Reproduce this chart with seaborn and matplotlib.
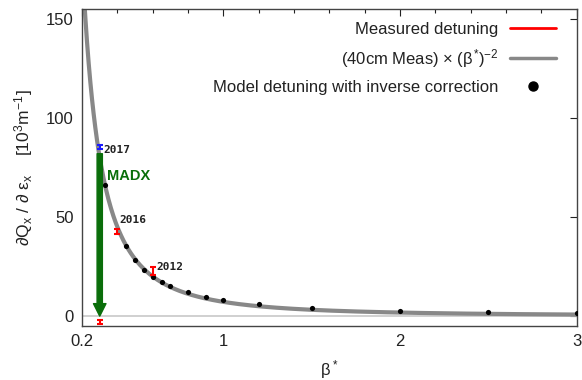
import numpy as np
import pandas as pd
import matplotlib
matplotlib.use("Agg")
import matplotlib.pyplot as plt
from matplotlib.ticker import FixedLocator, MultipleLocator
from matplotlib.lines import Line2D
from matplotlib.patches import FancyArrowPatch
import seaborn as sns

# ---- data ----
meas_40cm = 45.0                     # measured detuning at beta*=0.4 m used for scaling
beta_curve_min, beta_curve_max = 0.2, 3.0

model_beta = [0.33, 0.45, 0.5, 0.55, 0.6, 0.65, 0.7, 0.8, 0.9, 1.0, 1.2, 1.5, 2.0, 2.5, 3.0]
model_detuning = [66.3, 35.2, 28.5, 23.5, 19.8, 17.3, 15.1, 12.1, 9.6, 7.9, 5.9, 4.0, 2.5, 1.9, 1.5]

meas_years = ["2017", "2016", "2012"]
meas_beta = [0.3, 0.4, 0.6]
meas_val = [85.5, 42.7, 22.7]
meas_err = [1.0, 1.4, 2.0]
meas_colors = ["#1a1aff", "#ff0000", "#ff0000"]

corr_beta = [0.3]
corr_val = [-3.0]
corr_err = [1.0]

madx_start, madx_end = 82.0, 0.0
madx_beta = 0.3

xticks = [0.2, 1, 2, 3]
yticks = [0, 50, 100, 150]

# ---- plot ----
sns.set_theme(style="white")
plt.rcParams["font.family"] = ["Liberation Sans", "DejaVu Sans"]
plt.rcParams["mathtext.fontset"] = "custom"
plt.rcParams["mathtext.rm"] = "Liberation Sans"
plt.rcParams["mathtext.it"] = "Liberation Sans"

fig = plt.figure(figsize=(5.82, 3.8), dpi=100)
ax = fig.add_axes([0.141, 0.142, 0.850, 0.834])

beta_grid = np.linspace(beta_curve_min, beta_curve_max, 600)
curve = pd.DataFrame({"beta": beta_grid, "det": meas_40cm * (0.4 / beta_grid) ** 2})

ax.axhline(0, color="#c8c8c8", lw=1.2, zorder=1)
sns.lineplot(data=curve, x="beta", y="det", ax=ax, color="#888888", lw=3.0, zorder=2)

model = pd.DataFrame({"beta": model_beta, "det": model_detuning})
sns.scatterplot(data=model, x="beta", y="det", ax=ax, color="black", s=14,
                edgecolor="black", linewidth=0, zorder=3)

arrow = FancyArrowPatch((madx_beta, madx_start), (madx_beta, madx_end),
                        arrowstyle="simple,head_width=9,head_length=9,tail_width=3.8",
                        mutation_scale=1, color="#0a6e0a", shrinkA=0, shrinkB=0, zorder=4)
ax.add_patch(arrow)

for b, v, e, c in zip(meas_beta, meas_val, meas_err, meas_colors):
    ax.errorbar([b], [v], yerr=[e], color=c, lw=1.5, capsize=2.5, capthick=1.5,
                fmt="none", zorder=5)
ax.errorbar(corr_beta, corr_val, yerr=corr_err, color="#ff0000", lw=1.5, capsize=2.5,
            capthick=1.5, fmt="none", zorder=5)

mono = dict(family="DejaVu Sans Mono", fontweight="bold", fontsize=8, color="#222222")
ax.text(0.318, 84.0, meas_years[0], ha="left", va="center", **mono)
ax.text(0.41, 48.5, meas_years[1], ha="left", va="center", **mono)
ax.text(0.62, 25.0, meas_years[2], ha="left", va="center", **mono)
ax.text(0.342, 71.0, "MADX", color="#0a6e0a", fontsize=10.5, fontweight="bold",
        ha="left", va="center")

ax.set_xlim(0.2, 3.0)
ax.set_ylim(-5, 155)
ax.xaxis.set_major_locator(FixedLocator(xticks))
ax.xaxis.set_minor_locator(MultipleLocator(0.2))
ax.yaxis.set_major_locator(FixedLocator(yticks))
ax.set_xticklabels(["0.2", "1", "2", "3"])
ax.tick_params(axis="both", which="both", direction="in", top=True, right=True,
               labelsize=12, colors="#222222", pad=6)
ax.tick_params(axis="both", which="major", length=5, width=0.8)
ax.tick_params(axis="x", which="minor", length=3, width=0.8)
for sp in ax.spines.values():
    sp.set_color("#444444")
    sp.set_linewidth(1.0)

ax.set_xlabel(r"$\beta^*$", fontsize=12, color="#222222", labelpad=6)
ax.set_ylabel(r"$\partial Q_x\ /\ \partial\ \varepsilon_x\quad\ [10^3 m^{-1}]$",
              fontsize=12.5, color="#222222", labelpad=8)

handles = [Line2D([], [], color="#ff0000", lw=2),
           Line2D([], [], color="#888888", lw=2.5),
           Line2D([], [], color="black", marker="o", ls="none", markersize=6.5)]
labels = ["Measured detuning", r"(40cm Meas) $\times$ ($\beta^{*}$)$^{-2}$",
          "Model detuning with inverse correction"]
leg = ax.legend(handles, labels, loc="upper right", frameon=False, markerfirst=False,
                fontsize=12, handlelength=2.75, handletextpad=0.7, labelspacing=0.6,
                bbox_to_anchor=(0.971, 0.981), borderaxespad=0.0)
for t in leg.get_texts():
    t.set_color("#222222")

fig.savefig("out.png", dpi=100)
